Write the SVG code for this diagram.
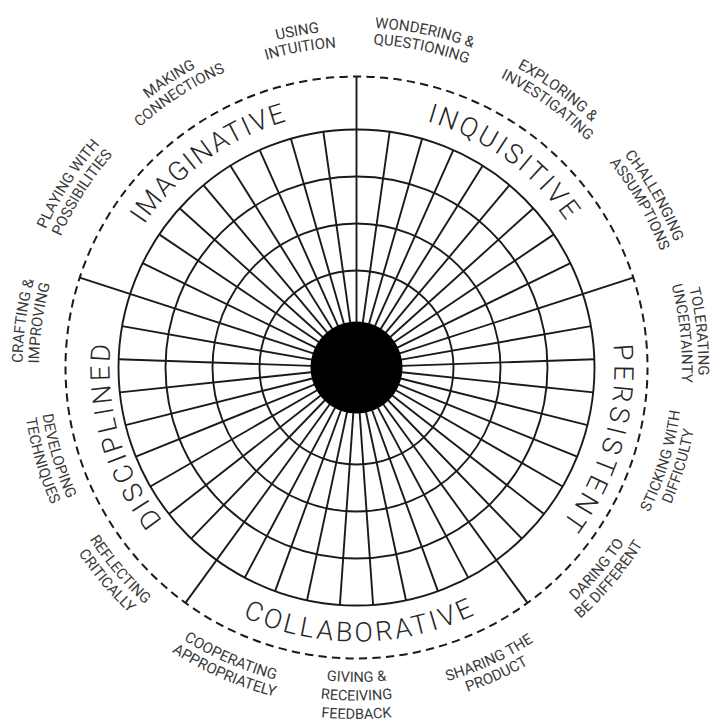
<svg xmlns="http://www.w3.org/2000/svg" xmlns:xlink="http://www.w3.org/1999/xlink" width="718" height="724" viewBox="0 0 718 724">
<style>
.grid{fill:none;stroke:#1a1a1a;stroke-width:1.9}
.dash{fill:none;stroke:#1a1a1a;stroke-width:2;stroke-dasharray:8.3 5.2438;stroke-dashoffset:0.766}
.habit{font-family:Roboto,"Liberation Sans",sans-serif;font-weight:300;font-size:27px;fill:#262626}
.sub{font-family:Roboto,"Liberation Sans",sans-serif;font-weight:400;font-size:15px;fill:#3a3a3a}
.sub3{font-size:14.5px}
</style>
<defs>
<line id="sp" x1="402" y1="367.5" x2="594.5" y2="367.5"/>
<line id="bd" x1="402" y1="367.5" x2="647.5" y2="367.5"/>
<path id="w256" d="M101.474 345.188A256 256 0 0 1 611.526 345.188"/>
<path id="w258" d="M99.482 345.014A258 258 0 0 1 613.518 345.014"/>
<path id="w247" d="M110.44 345.972A247 247 0 0 1 602.56 345.972"/>
<path id="w340" d="M17.794 337.867A340 340 0 0 1 695.206 337.867"/>
<path id="w3235" d="M34.231 339.305A323.5 323.5 0 0 1 678.769 339.305"/>
<path id="w342" d="M15.801 337.693A342 342 0 0 1 697.199 337.693"/>
<path id="w3255" d="M32.239 339.131A325.5 325.5 0 0 1 680.761 339.131"/>
<path id="w334" d="M23.771 338.39A334 334 0 0 1 689.229 338.39"/>
<path id="w3175" d="M40.208 339.828A317.5 317.5 0 0 1 672.792 339.828"/>
<path id="w337" d="M20.782 338.128A337 337 0 0 1 692.218 338.128"/>
<path id="w3205" d="M37.219 339.566A320.5 320.5 0 0 1 675.781 339.566"/>
<path id="c274" d="M83.543 391.381A274 274 0 0 0 629.457 391.381"/>
<path id="c3175" d="M40.208 395.172A317.5 317.5 0 0 0 672.792 395.172"/>
<path id="c3345" d="M23.273 396.654A334.5 334.5 0 0 0 689.727 396.654"/>
<path id="c3145" d="M43.197 394.911A314.5 314.5 0 0 0 669.803 394.911"/>
<path id="c333" d="M24.767 396.523A333 333 0 0 0 688.233 396.523"/>
<path id="c3515" d="M6.337 398.135A351.5 351.5 0 0 0 706.663 398.135"/>
<path id="c3225" d="M35.227 395.608A322.5 322.5 0 0 0 677.773 395.608"/>
<path id="c339" d="M18.79 397.046A339 339 0 0 0 694.21 397.046"/>
<path id="c3265" d="M31.242 395.956A326.5 326.5 0 0 0 681.758 395.956"/>
<path id="c343" d="M14.805 397.395A343 343 0 0 0 698.195 397.395"/>
<path id="c320" d="M37.718 395.39A320 320 0 0 0 675.282 395.39"/>
<path id="c3365" d="M21.28 396.828A336.5 336.5 0 0 0 691.72 396.828"/>
</defs>
<rect width="718" height="724" fill="#ffffff"/>

<g id="wheel">
<circle class="dash" cx="356.5" cy="367.5" r="291"/>
<g id="rings" class="grid">
<circle cx="356.5" cy="367.5" r="97"/>
<circle cx="356.5" cy="367.5" r="144"/>
<circle cx="356.5" cy="367.5" r="191"/>
<circle cx="356.5" cy="367.5" r="238"/>
</g>
<g id="connectors" class="grid">
<use xlink:href="#bd" transform="rotate(-90 356.5 367.5)"/>
<use xlink:href="#sp" transform="rotate(-82 356.5 367.5)"/>
<use xlink:href="#sp" transform="rotate(-74 356.5 367.5)"/>
<use xlink:href="#sp" transform="rotate(-66 356.5 367.5)"/>
<use xlink:href="#sp" transform="rotate(-58 356.5 367.5)"/>
<use xlink:href="#sp" transform="rotate(-50 356.5 367.5)"/>
<use xlink:href="#sp" transform="rotate(-42 356.5 367.5)"/>
<use xlink:href="#sp" transform="rotate(-34 356.5 367.5)"/>
<use xlink:href="#sp" transform="rotate(-26 356.5 367.5)"/>
<use xlink:href="#bd" transform="rotate(-18 356.5 367.5)"/>
<use xlink:href="#sp" transform="rotate(-10 356.5 367.5)"/>
<use xlink:href="#sp" transform="rotate(-2 356.5 367.5)"/>
<use xlink:href="#sp" transform="rotate(6 356.5 367.5)"/>
<use xlink:href="#sp" transform="rotate(14 356.5 367.5)"/>
<use xlink:href="#sp" transform="rotate(22 356.5 367.5)"/>
<use xlink:href="#sp" transform="rotate(30 356.5 367.5)"/>
<use xlink:href="#sp" transform="rotate(38 356.5 367.5)"/>
<use xlink:href="#sp" transform="rotate(46 356.5 367.5)"/>
<use xlink:href="#bd" transform="rotate(54 356.5 367.5)"/>
<use xlink:href="#sp" transform="rotate(62 356.5 367.5)"/>
<use xlink:href="#sp" transform="rotate(70 356.5 367.5)"/>
<use xlink:href="#sp" transform="rotate(78 356.5 367.5)"/>
<use xlink:href="#sp" transform="rotate(86 356.5 367.5)"/>
<use xlink:href="#sp" transform="rotate(94 356.5 367.5)"/>
<use xlink:href="#sp" transform="rotate(102 356.5 367.5)"/>
<use xlink:href="#sp" transform="rotate(110 356.5 367.5)"/>
<use xlink:href="#sp" transform="rotate(118 356.5 367.5)"/>
<use xlink:href="#bd" transform="rotate(126 356.5 367.5)"/>
<use xlink:href="#sp" transform="rotate(134 356.5 367.5)"/>
<use xlink:href="#sp" transform="rotate(142 356.5 367.5)"/>
<use xlink:href="#sp" transform="rotate(150 356.5 367.5)"/>
<use xlink:href="#sp" transform="rotate(158 356.5 367.5)"/>
<use xlink:href="#sp" transform="rotate(166 356.5 367.5)"/>
<use xlink:href="#sp" transform="rotate(174 356.5 367.5)"/>
<use xlink:href="#sp" transform="rotate(182 356.5 367.5)"/>
<use xlink:href="#sp" transform="rotate(190 356.5 367.5)"/>
<use xlink:href="#bd" transform="rotate(198 356.5 367.5)"/>
<use xlink:href="#sp" transform="rotate(206 356.5 367.5)"/>
<use xlink:href="#sp" transform="rotate(214 356.5 367.5)"/>
<use xlink:href="#sp" transform="rotate(222 356.5 367.5)"/>
<use xlink:href="#sp" transform="rotate(230 356.5 367.5)"/>
<use xlink:href="#sp" transform="rotate(238 356.5 367.5)"/>
<use xlink:href="#sp" transform="rotate(246 356.5 367.5)"/>
<use xlink:href="#sp" transform="rotate(254 356.5 367.5)"/>
<use xlink:href="#sp" transform="rotate(262 356.5 367.5)"/>
</g>
<circle id="hub" cx="356.5" cy="367.5" r="46" fill="#000"/>
</g>

<g id="habit-inquisitive">
<text class="habit" transform="rotate(35.5 356.5 367.5)"><textPath xlink:href="#w256" startOffset="50%" text-anchor="middle" textLength="175" lengthAdjust="spacing">INQUISITIVE</textPath></text>
<text class="sub" transform="rotate(11.5 356.5 367.5)"><textPath xlink:href="#w340" startOffset="50%" text-anchor="middle">WONDERING &amp;</textPath></text>
<text class="sub" transform="rotate(11.5 356.5 367.5)"><textPath xlink:href="#w3235" startOffset="50%" text-anchor="middle">QUESTIONING</textPath></text>
<text class="sub" transform="rotate(36 356.5 367.5)"><textPath xlink:href="#w340" startOffset="50%" text-anchor="middle">EXPLORING &amp;</textPath></text>
<text class="sub" transform="rotate(36 356.5 367.5)"><textPath xlink:href="#w3235" startOffset="50%" text-anchor="middle">INVESTIGATING</textPath></text>
<text class="sub" transform="rotate(60 356.5 367.5)"><textPath xlink:href="#w342" startOffset="50%" text-anchor="middle">CHALLENGING</textPath></text>
<text class="sub" transform="rotate(60 356.5 367.5)"><textPath xlink:href="#w3255" startOffset="50%" text-anchor="middle">ASSUMPTIONS</textPath></text>
</g>

<g id="habit-persistent">
<text class="habit" transform="rotate(106 356.5 367.5)"><textPath xlink:href="#w258" startOffset="50%" text-anchor="middle" textLength="190" lengthAdjust="spacing">PERSISTENT</textPath></text>
<text class="sub" transform="rotate(84 356.5 367.5)"><textPath xlink:href="#w342" startOffset="50%" text-anchor="middle">TOLERATING</textPath></text>
<text class="sub" transform="rotate(84 356.5 367.5)"><textPath xlink:href="#w3255" startOffset="50%" text-anchor="middle">UNCERTAINTY</textPath></text>
<text class="sub" transform="rotate(-73 356.5 367.5)"><textPath xlink:href="#c3265" startOffset="50%" text-anchor="middle">STICKING WITH</textPath></text>
<text class="sub" transform="rotate(-73 356.5 367.5)"><textPath xlink:href="#c343" startOffset="50%" text-anchor="middle">DIFFICULTY</textPath></text>
<text class="sub" transform="rotate(-50 356.5 367.5)"><textPath xlink:href="#c320" startOffset="50%" text-anchor="middle">DARING TO</textPath></text>
<text class="sub" transform="rotate(-50 356.5 367.5)"><textPath xlink:href="#c3365" startOffset="50%" text-anchor="middle">BE DIFFERENT</textPath></text>
</g>

<g id="habit-collaborative">
<text class="habit" transform="rotate(-0.5 356.5 367.5)"><textPath xlink:href="#c274" startOffset="50%" text-anchor="middle" textLength="240" lengthAdjust="spacing">COLLABORATIVE</textPath></text>
<text class="sub" transform="rotate(-24.5 356.5 367.5)"><textPath xlink:href="#c3265" startOffset="50%" text-anchor="middle">SHARING THE</textPath></text>
<text class="sub" transform="rotate(-24.5 356.5 367.5)"><textPath xlink:href="#c343" startOffset="50%" text-anchor="middle">PRODUCT</textPath></text>
<text class="sub sub3"><textPath xlink:href="#c3145" startOffset="50%" text-anchor="middle">GIVING &amp;</textPath></text>
<text class="sub sub3"><textPath xlink:href="#c333" startOffset="50%" text-anchor="middle">RECEIVING</textPath></text>
<text class="sub sub3"><textPath xlink:href="#c3515" startOffset="50%" text-anchor="middle">FEEDBACK</textPath></text>
<text class="sub" transform="rotate(23.5 356.5 367.5)"><textPath xlink:href="#c3225" startOffset="50%" text-anchor="middle">COOPERATING</textPath></text>
<text class="sub" transform="rotate(23.5 356.5 367.5)"><textPath xlink:href="#c339" startOffset="50%" text-anchor="middle">APPROPRIATELY</textPath></text>
</g>

<g id="habit-disciplined">
<text class="habit" transform="rotate(253.5 356.5 367.5)"><textPath xlink:href="#w247" startOffset="50%" text-anchor="middle" textLength="188" lengthAdjust="spacing">DISCIPLINED</textPath></text>
<text class="sub" transform="rotate(49.5 356.5 367.5)"><textPath xlink:href="#c3175" startOffset="50%" text-anchor="middle">REFLECTING</textPath></text>
<text class="sub" transform="rotate(49.5 356.5 367.5)"><textPath xlink:href="#c3345" startOffset="50%" text-anchor="middle">CRITICALLY</textPath></text>
<text class="sub" transform="rotate(73.5 356.5 367.5)"><textPath xlink:href="#c3175" startOffset="50%" text-anchor="middle">DEVELOPING</textPath></text>
<text class="sub" transform="rotate(73.5 356.5 367.5)"><textPath xlink:href="#c3345" startOffset="50%" text-anchor="middle">TECHNIQUES</textPath></text>
<text class="sub" transform="rotate(-82 356.5 367.5)"><textPath xlink:href="#w334" startOffset="50%" text-anchor="middle">CRAFTING &amp;</textPath></text>
<text class="sub" transform="rotate(-82 356.5 367.5)"><textPath xlink:href="#w3175" startOffset="50%" text-anchor="middle">IMPROVING</textPath></text>
</g>

<g id="habit-imaginative">
<text class="habit" transform="rotate(-36 356.5 367.5)"><textPath xlink:href="#w256" startOffset="50%" text-anchor="middle" textLength="180" lengthAdjust="spacing">IMAGINATIVE</textPath></text>
<text class="sub" transform="rotate(-57.5 356.5 367.5)"><textPath xlink:href="#w340" startOffset="50%" text-anchor="middle">PLAYING WITH</textPath></text>
<text class="sub" transform="rotate(-57.5 356.5 367.5)"><textPath xlink:href="#w3235" startOffset="50%" text-anchor="middle">POSSIBILITIES</textPath></text>
<text class="sub" transform="rotate(-33 356.5 367.5)"><textPath xlink:href="#w340" startOffset="50%" text-anchor="middle">MAKING</textPath></text>
<text class="sub" transform="rotate(-33 356.5 367.5)"><textPath xlink:href="#w3235" startOffset="50%" text-anchor="middle">CONNECTIONS</textPath></text>
<text class="sub" transform="rotate(-10 356.5 367.5)"><textPath xlink:href="#w337" startOffset="50%" text-anchor="middle">USING</textPath></text>
<text class="sub" transform="rotate(-10 356.5 367.5)"><textPath xlink:href="#w3205" startOffset="50%" text-anchor="middle">INTUITION</textPath></text>
</g>
</svg>
